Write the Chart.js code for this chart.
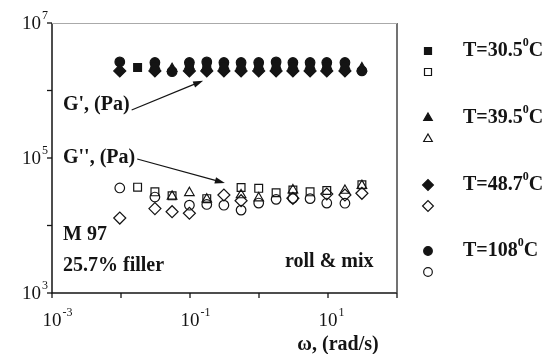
<!DOCTYPE html>
<html>
<head>
<meta charset="utf-8">
<script src="https://cdn.jsdelivr.net/npm/chart.js@4/dist/chart.umd.min.js"></script>
<style>
  html, body { margin: 0; padding: 0; background: #fff; }
  #wrap { width: 550px; height: 354px; }
</style>
</head>
<body>
<div id="wrap"><canvas id="chart-moduli"></canvas></div>
<script>
// frequency sweep, rad/s
const omega = [0.0096, 0.0174, 0.031, 0.055, 0.098, 0.175, 0.31, 0.55, 0.99, 1.77, 3.1, 5.5, 9.6, 17.6, 31];

// storage modulus G' (Pa), one array per temperature
const gp305 = [null, 2.2e6, 2.25e6, null, 2.2e6, 2.2e6, 2.25e6, 2.2e6, 2.25e6, 2.2e6, 2.25e6, 2.2e6, 2.25e6, 2.2e6, null];
const gp395 = [null, null, 2.3e6, 2.1e6, 2.3e6, 2.25e6, 2.3e6, 2.3e6, 2.3e6, 2.3e6, 2.3e6, 2.3e6, 2.3e6, 2.3e6, 2.15e6];
const gp487 = [1.95e6, null, 1.95e6, null, 1.95e6, 1.95e6, 1.95e6, 1.95e6, 1.95e6, 1.95e6, 1.95e6, 1.95e6, 1.95e6, 1.95e6, null];
const gp108 = [2.65e6, null, 2.6e6, 1.9e6, 2.6e6, 2.65e6, 2.6e6, 2.6e6, 2.6e6, 2.65e6, 2.6e6, 2.6e6, 2.6e6, 2.6e6, 1.95e6];

// loss modulus G'' (Pa)
const gpp305 = [null, 37000, 31500, 27500, null, 25000, null, 36500, 35500, 30500, 33500, 31500, 33000, null, 40000];
const gpp395 = [null, null, null, 27000, 30500, 24500, null, 28300, 25500, null, 33500, null, null, 33000, 39000];
const gpp487 = [12900, null, 17800, 16000, 15200, null, 28300, 23300, null, null, 25300, null, 29300, 28300, 30000];
const gpp108 = [36000, null, 26400, null, 20000, 20500, 20000, 16900, 21500, 24400, 25300, 25000, 21500, 21400, null];

const tempLabels = ['30.5', '39.5', '48.7', '108'];
const markerStyles = ['rect', 'triangle', 'rectRot', 'circle'];
const markerSizes = [5.5, 5.5, 6, 4.8];

const xExps = [-3, -2, -1, 0, 1, 2];
const xLabelExps = [-3, -1, 1];
const yExps = [3, 4, 5, 6, 7];
const yLabelExps = [3, 5, 7];

const INK = '#141414';
const SERIF = '"Liberation Serif", "DejaVu Serif", serif';

function toPoints(values) {
    return omega.map((w, i) => ({ x: w, y: values[i] })).filter(p => p.y !== null);
}

function makeSet(values, idx, filled) {
    return {
        data: toPoints(values),
        pointStyle: markerStyles[idx],
        pointRadius: markerSizes[idx],
        pointHoverRadius: markerSizes[idx],
        pointBorderWidth: 1.2,
        borderColor: INK,
        backgroundColor: filled ? INK : 'rgba(0,0,0,0)',
        showLine: false
    };
}

const datasets = [
    makeSet(gp305, 0, true), makeSet(gpp305, 0, false),
    makeSet(gp395, 1, true), makeSet(gpp395, 1, false),
    makeSet(gp487, 2, true), makeSet(gpp487, 2, false),
    makeSet(gp108, 3, true), makeSet(gpp108, 3, false)
];

function drawPower(ctx, exp, x, y, align) {
    ctx.font = '19px ' + SERIF;
    const base = ctx.measureText('10').width;
    ctx.font = '12px ' + SERIF;
    const sup = ctx.measureText(String(exp)).width;
    let left = align === 'right' ? x - base - sup - 1 : x - base / 2;
    ctx.textAlign = 'left';
    ctx.textBaseline = 'middle';
    ctx.font = '19px ' + SERIF;
    ctx.fillText('10', left, y);
    ctx.font = '12px ' + SERIF;
    ctx.fillText(String(exp), left + base + 1, y - 8);
}

function drawArrow(ctx, x0, y0, x1, y1) {
    const ang = Math.atan2(y1 - y0, x1 - x0);
    const len = 10, half = 3.2;
    ctx.beginPath();
    ctx.moveTo(x0, y0);
    ctx.lineTo(x1 - Math.cos(ang) * len * 0.8, y1 - Math.sin(ang) * len * 0.8);
    ctx.stroke();
    ctx.beginPath();
    ctx.moveTo(x1, y1);
    ctx.lineTo(x1 - Math.cos(ang) * len - Math.sin(ang) * half, y1 - Math.sin(ang) * len + Math.cos(ang) * half);
    ctx.lineTo(x1 - Math.cos(ang) * len + Math.sin(ang) * half, y1 - Math.sin(ang) * len - Math.cos(ang) * half);
    ctx.closePath();
    ctx.fill();
}

const framePlugin = {
    id: 'frame',
    afterDraw(chart) {
        const { ctx, chartArea: a, scales } = chart;
        const xs = scales.x, ys = scales.y;
        ctx.save();
        ctx.fillStyle = INK;
        ctx.strokeStyle = INK;

        // box: dark left/bottom, softer right, faint top
        ctx.lineWidth = 1.5;
        ctx.beginPath();
        ctx.moveTo(a.left, a.top);
        ctx.lineTo(a.left, a.bottom);
        ctx.lineTo(a.right, a.bottom);
        ctx.stroke();
        ctx.strokeStyle = '#444';
        ctx.beginPath();
        ctx.moveTo(a.right, a.bottom);
        ctx.lineTo(a.right, a.top);
        ctx.stroke();
        ctx.strokeStyle = '#aaa';
        ctx.lineWidth = 1;
        ctx.beginPath();
        ctx.moveTo(a.left, a.top + 0.5);
        ctx.lineTo(a.right, a.top + 0.5);
        ctx.stroke();

        // decade ticks
        ctx.strokeStyle = INK;
        ctx.lineWidth = 1.3;
        xExps.forEach(e => {
            const px = xs.getPixelForValue(Math.pow(10, e));
            ctx.beginPath();
            ctx.moveTo(px, a.bottom);
            ctx.lineTo(px, a.bottom + 5);
            ctx.stroke();
        });
        yExps.forEach(e => {
            const py = ys.getPixelForValue(Math.pow(10, e));
            ctx.beginPath();
            ctx.moveTo(a.left, py);
            ctx.lineTo(a.left - 5, py);
            ctx.stroke();
        });

        xLabelExps.forEach(e => drawPower(ctx, e, xs.getPixelForValue(Math.pow(10, e)), a.bottom + 28, 'center'));
        yLabelExps.forEach(e => drawPower(ctx, e, a.left - 4, ys.getPixelForValue(Math.pow(10, e)) + 1, 'right'));

        // axis title
        ctx.font = 'bold 20px ' + SERIF;
        ctx.textAlign = 'center';
        ctx.textBaseline = 'middle';
        ctx.fillText('\u03c9, (rad/s)', 338, 345);

        // annotations
        ctx.font = 'bold 20px ' + SERIF;
        ctx.textAlign = 'left';
        ctx.fillText("G', (Pa)", 63, 105);
        ctx.fillText("G'', (Pa)", 63, 158);
        ctx.fillText('M 97', 63, 235);
        ctx.fillText('25.7% filler', 63, 266);
        ctx.fillText('roll & mix', 285, 262);

        ctx.lineWidth = 1.2;
        const w1 = ctx.measureText("G', (Pa)").width;
        const w2 = ctx.measureText("G'', (Pa)").width;
        drawArrow(ctx, 63 + w1 + 2, 110, xs.getPixelForValue(0.155), ys.getPixelForValue(1.4e6));
        drawArrow(ctx, 63 + w2 + 2, 159, xs.getPixelForValue(0.32), ys.getPixelForValue(42700));

        // legend: filled symbol with temperature, open symbol below
        const rowY = [51, 118, 185, 251];
        const mx = 428, tx = 463;
        tempLabels.forEach((t, i) => {
            [true, false].forEach(filled => {
                const y = filled ? rowY[i] : rowY[i] + 21;
                ctx.fillStyle = filled ? INK : 'rgba(0,0,0,0)';
                ctx.strokeStyle = INK;
                ctx.lineWidth = 1.2;
                Chart.helpers.drawPoint(ctx, { pointStyle: markerStyles[i], rotation: 0, radius: markerSizes[i] * 0.9, borderWidth: 1.2 }, mx, y);
            });
            ctx.fillStyle = INK;
            ctx.font = 'bold 20px ' + SERIF;
            ctx.textBaseline = 'middle';
            const head = 'T=' + t;
            ctx.fillText(head, tx, rowY[i]);
            let x = tx + ctx.measureText(head).width;
            ctx.font = 'bold 12px ' + SERIF;
            ctx.fillText('0', x, rowY[i] - 8);
            x += ctx.measureText('0').width;
            ctx.font = 'bold 20px ' + SERIF;
            ctx.fillText('C', x, rowY[i]);
        });
        ctx.restore();
    }
};

new Chart(document.getElementById('chart-moduli'), {
    type: 'scatter',
    data: { datasets },
    options: {
        responsive: true,
        maintainAspectRatio: false,
        animation: false,
        layout: { padding: { left: 52, right: 153, top: 23, bottom: 61 } },
        plugins: { legend: { display: false }, tooltip: { enabled: false } },
        scales: {
            x: { type: 'logarithmic', min: 1e-3, max: 1e2, display: false },
            y: { type: 'logarithmic', min: 1e3, max: 1e7, display: false }
        }
    },
    plugins: [framePlugin]
});
</script>
</body>
</html>
